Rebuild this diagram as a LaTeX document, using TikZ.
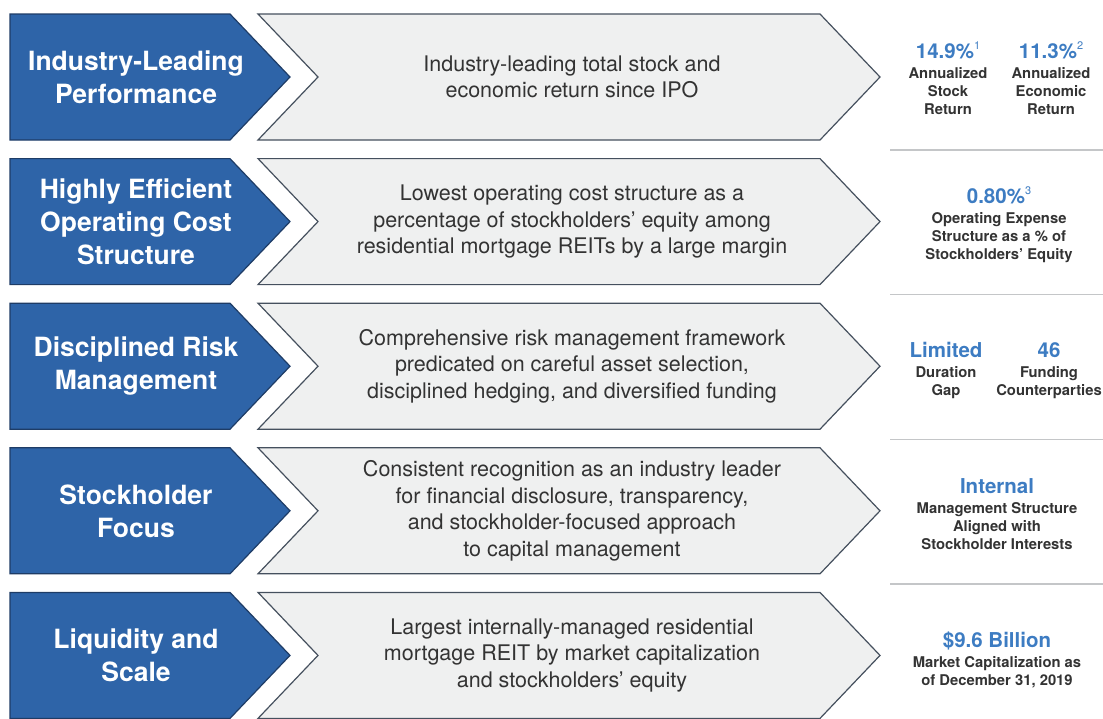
\documentclass[tikz,border=0pt]{standalone}
\usepackage{fontspec}
\setmainfont{TeX Gyre Heros}
\usetikzlibrary{positioning}

\definecolor{boxblue}{HTML}{2E64A8}
\definecolor{boxnavy}{HTML}{1E3C66}
\definecolor{chevgrey}{HTML}{EFF0F0}
\definecolor{chevline}{HTML}{45505E}
\definecolor{valblue}{HTML}{3D7CC2}
\definecolor{txtgrey}{HTML}{333333}
\definecolor{sepgrey}{HTML}{C4C6C8}

\newcommand{\fnote}[1]{\raisebox{0.42em}{\fontsize{11}{11}\selectfont\mdseries #1}}

\tikzset{
	title/.style={text=white, font=\fontsize{26.5}{33}\selectfont\bfseries, align=center},
	body/.style={text=txtgrey, font=\fontsize{21.5}{26.5}\selectfont, align=center},
	val/.style={text=valblue, font=\fontsize{20.5}{24}\selectfont\bfseries, inner sep=0pt, text depth=0pt, anchor=base},
	desc/.style={text=txtgrey, font=\fontsize{14.8}{18}\selectfont\bfseries, align=center, inner sep=0pt},
}

\begin{document}
\begin{tikzpicture}[x=1pt, y=-1pt]
	\useasboundingbox (0,0) rectangle (1103,718);
	\foreach \t in {14, 158.6, 303.2, 447.8, 592.4} {
		\draw[fill=boxblue, draw=boxnavy, line width=1.2pt] (10,\t) -- (230,\t) -- (290,\t+63) -- (230,\t+126) -- (10,\t+126) -- cycle;
		\draw[fill=chevgrey, draw=chevline, line width=1.2pt] (258,\t) -- (820,\t) -- (880,\t+63) -- (820,\t+126) -- (258,\t+126) -- (318,\t+63) -- cycle;
	}
	\foreach \s in {150, 294.7, 439.4, 584.1}
		\draw[sepgrey, line width=1.5pt] (890,\s) -- (1103,\s);

	\node[title] (perf) at (136,77) {Industry-Leading\\Performance};
	\node[body] (perftxt) at (572,77) {Industry-leading total stock and\\economic return since IPO};
	\node[val] (stockret) at (948,58) {14.9\%\fnote{1}};
	\node[desc, below=9pt of stockret] (stocklbl) {Annualized\\Stock\\Return};
	\node[val] (econret) at (1051,58) {11.3\%\fnote{2}};
	\node[desc, below=9pt of econret] (econlbl) {Annualized\\Economic\\Return};

	\node[title] (cost) at (136,221.6) {Highly Efficient\\Operating Cost\\Structure};
	\node[body] (costtxt) at (572,221.6) {Lowest operating cost structure as a\\percentage of stockholders' equity among\\residential mortgage REITs by a large margin};
	\node[val] (opex) at (999,203) {0.80\%\fnote{3}};
	\node[desc, below=9pt of opex] (opexlbl) {Operating Expense\\Structure as a \% of\\Stockholders' Equity};

	\node[title] (risk) at (136,366.2) {Disciplined Risk\\Management};
	\node[body] (risktxt) at (572,366.2) {Comprehensive risk management framework\\predicated on careful asset selection,\\disciplined hedging, and diversified funding};
	\node[val] (gap) at (946,357) {Limited};
	\node[desc, below=9pt of gap] (gaplbl) {Duration\\Gap};
	\node[val] (funding) at (1049,357) {46};
	\node[desc, below=9pt of funding] (fundlbl) {Funding\\Counterparties};

	\node[title] (focus) at (136,511) {Stockholder\\Focus};
	\node[body] (focustxt) at (572,511) {Consistent recognition as an industry leader\\for financial disclosure, transparency,\\and stockholder-focused approach\\to capital management};
	\node[val] (mgmt) at (997,493) {Internal};
	\node[desc, below=9pt of mgmt] (mgmtlbl) {Management Structure\\Aligned with\\Stockholder Interests};

	\node[title] (scale) at (136,655.4) {Liquidity and\\Scale};
	\node[body] (scaletxt) at (572,655.4) {Largest internally-managed residential\\mortgage REIT by market capitalization\\and stockholders' equity};
	\node[val] (mktcap) at (997,647) {\$9.6 Billion};
	\node[desc, below=9pt of mktcap] (mktlbl) {Market Capitalization as\\of December 31, 2019};
\end{tikzpicture}
\end{document}
